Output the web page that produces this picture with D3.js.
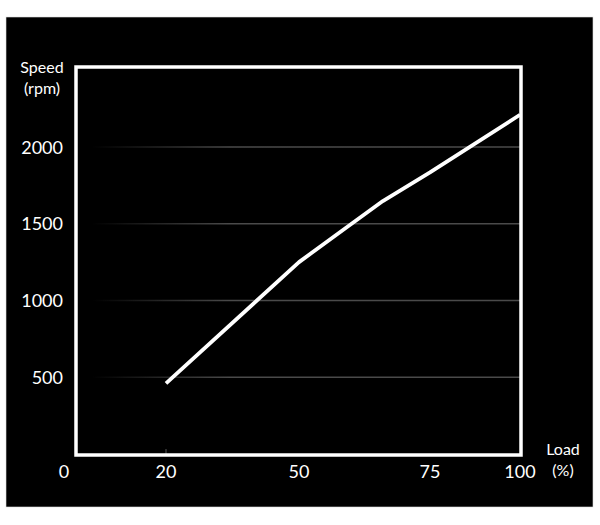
<!DOCTYPE html>
<html>
<head>
<meta charset="utf-8">
<script src="https://cdn.jsdelivr.net/npm/d3@7"></script>
<style>
  body { margin: 0; background: #fff; }
  svg { display: block; }
  text { font-family: Lato, "Open Sans", sans-serif; fill: #fff; }
</style>
</head>
<body>
<div id="chart"></div>
<script>
// data
const loadTicks = [0, 20, 50, 75, 100];
const speedTicks = [500, 1000, 1500, 2000];
const load = [20, 50, 58, 66, 75, 100];
const speed = [460, 1250, 1450, 1648, 1835, 2210];
const data = load.map((d, i) => ({ x: d, y: speed[i] }));

const width = 600, height = 525;
const frame = { left: 76, right: 521, top: 67, bottom: 455 };

const svg = d3.select("#chart")
    .append("svg")
    .attr("width", width)
    .attr("height", height);

// black panel
svg.append("rect")
    .attr("x", 6).attr("y", 17)
    .attr("width", 587).attr("height", 490)
    .attr("fill", "#000")
    .attr("stroke", "#ddd")
    .attr("stroke-width", 0.6);

// load axis is not evenly spaced in the drawing, so piecewise scale
const xScale = d3.scaleLinear()
    .domain(loadTicks)
    .range([64, 166, 299, 430, 520]);

const yScale = d3.scaleLinear()
    .domain([0, 2000])
    .range([454, 147]);

// fading grid lines
const grad = svg.append("defs").append("linearGradient")
    .attr("id", "gridFade")
    .attr("gradientUnits", "userSpaceOnUse")
    .attr("x1", 92).attr("x2", 230).attr("y1", 0).attr("y2", 0);
grad.append("stop").attr("offset", 0).attr("stop-color", "#4a4a4a").attr("stop-opacity", 0);
grad.append("stop").attr("offset", 1).attr("stop-color", "#4a4a4a").attr("stop-opacity", 1);

svg.append("g")
    .selectAll("line")
    .data(speedTicks)
    .enter()
    .append("line")
    .attr("x1", 92)
    .attr("x2", frame.right)
    .attr("y1", d => yScale(d))
    .attr("y2", d => yScale(d))
    .attr("stroke", "url(#gridFade)")
    .attr("stroke-width", 1.5);

// small tick at 20
svg.append("line")
    .attr("x1", xScale(20)).attr("x2", xScale(20))
    .attr("y1", frame.bottom - 6).attr("y2", frame.bottom)
    .attr("stroke", "#555")
    .attr("stroke-width", 1);

// frame
svg.append("rect")
    .attr("x", frame.left).attr("y", frame.top)
    .attr("width", frame.right - frame.left)
    .attr("height", frame.bottom - frame.top)
    .attr("fill", "none")
    .attr("stroke", "#fff")
    .attr("stroke-width", 3.5);

// curve
svg.append("path")
    .datum(data)
    .attr("fill", "none")
    .attr("stroke", "#fff")
    .attr("stroke-width", 3.8)
    .attr("stroke-linejoin", "round")
    .attr("d", d3.line()
        .x(d => xScale(d.x))
        .y(d => yScale(d.y)));

// y tick labels
svg.append("g")
    .selectAll("text")
    .data(speedTicks)
    .enter()
    .append("text")
    .attr("x", 63)
    .attr("y", d => yScale(d) + 6.5)
    .attr("text-anchor", "end")
    .style("font-size", "18px")
    .text(d => d);

// x tick labels
svg.append("g")
    .selectAll("text")
    .data(loadTicks)
    .enter()
    .append("text")
    .attr("x", d => xScale(d))
    .attr("y", 478)
    .attr("text-anchor", "middle")
    .style("font-size", "18px")
    .text(d => d);

// axis titles
svg.append("text").attr("x", 42).attr("y", 73)
    .attr("text-anchor", "middle").style("font-size", "16px").text("Speed");
svg.append("text").attr("x", 42).attr("y", 94)
    .attr("text-anchor", "middle").style("font-size", "16px").text("(rpm)");
svg.append("text").attr("x", 563).attr("y", 455)
    .attr("text-anchor", "middle").style("font-size", "16px").text("Load");
svg.append("text").attr("x", 563).attr("y", 476)
    .attr("text-anchor", "middle").style("font-size", "16px").text("(%)");
</script>
</body>
</html>
